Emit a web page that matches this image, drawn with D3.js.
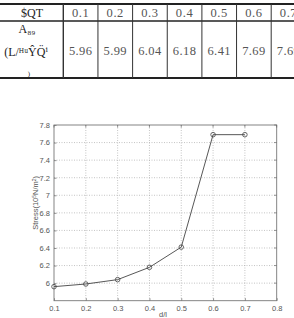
<!DOCTYPE html>
<html>
<head>
<meta charset="utf-8">
<script src="https://cdn.jsdelivr.net/npm/d3@7"></script>
<style>
  body { margin: 0; background: #fff; }
  svg { display: block; }
</style>
</head>
<body>
<div id="chart"></div>
<script>
// Values
const dl = [0.1, 0.2, 0.3, 0.4, 0.5, 0.6, 0.7];
const stress = [5.96, 5.99, 6.04, 6.18, 6.41, 7.69, 7.69];
const xTicks = [0.1, 0.2, 0.3, 0.4, 0.5, 0.6, 0.7, 0.8];
const yTicks = [6, 6.2, 6.4, 6.6, 6.8, 7, 7.2, 7.4, 7.6, 7.8];
const headLabel = "$QT";
const rowLabel = ["A\u2088\u2089", "(L/\u1d34\u1d58\u0176Q\u0308\u2071", ")"];

const W = 294, H = 318;
const svg = d3.select("#chart").append("svg")
  .attr("width", W).attr("height", H);

// ---- table at the top ----
const tbl = svg.append("g");
const colX = d3.scaleBand().domain(dl).range([63.3, 63.3 + 34.65 * dl.length]);
const serif = "'Liberation Serif', 'DejaVu Serif', serif";

tbl.append("line").attr("x1", 0).attr("x2", W).attr("y1", 4).attr("y2", 4)
  .attr("stroke", "#222").attr("stroke-width", 2);
tbl.append("line").attr("x1", 0).attr("x2", W).attr("y1", 21).attr("y2", 21)
  .attr("stroke", "#222").attr("stroke-width", 1.6);
tbl.append("line").attr("x1", 0).attr("x2", W).attr("y1", 78).attr("y2", 78)
  .attr("stroke", "#222").attr("stroke-width", 2);

tbl.selectAll(".vl").data(dl).enter().append("line")
  .attr("x1", d => colX(d)).attr("x2", d => colX(d))
  .attr("y1", 4).attr("y2", 78)
  .attr("stroke", "#333").attr("stroke-width", d => d === dl[0] ? 1.4 : 1);

// the last column runs past the right edge, as in the source page
tbl.selectAll(".hd").data(dl).enter().append("text")
  .attr("x", d => colX(d) + colX.bandwidth() / 2).attr("y", 17)
  .attr("text-anchor", "middle")
  .attr("font-family", serif).attr("font-size", 12.5).attr("fill", "#555")
  .attr("letter-spacing", 0.6)
  .text(d => d3.format(".1f")(d));

tbl.selectAll(".val").data(stress).enter().append("text")
  .attr("x", (d, i) => colX(dl[i]) + colX.bandwidth() / 2).attr("y", 54.5)
  .attr("text-anchor", "middle")
  .attr("font-family", serif).attr("font-size", 12.5).attr("fill", "#555")
  .attr("letter-spacing", 0.4)
  .text(d => d3.format(".2f")(d));

tbl.append("text").attr("x", 32).attr("y", 17).attr("text-anchor", "middle")
  .attr("font-family", serif).attr("font-size", 12).attr("fill", "#222")
  .text(headLabel);
tbl.append("text").attr("x", 27).attr("y", 33).attr("text-anchor", "middle")
  .attr("font-family", serif).attr("font-size", 12).attr("fill", "#222")
  .text(rowLabel[0]);
tbl.append("text").attr("x", 26).attr("y", 56).attr("text-anchor", "middle")
  .attr("font-family", serif).attr("font-size", 12).attr("fill", "#222")
  .text(rowLabel[1]);
tbl.append("text").attr("x", 29).attr("y", 76).attr("text-anchor", "middle")
  .attr("font-family", serif).attr("font-size", 7).attr("fill", "#222")
  .text(rowLabel[2]);

// ---- line chart ----
const m = { left: 54, right: 276.7, top: 125, bottom: 300.7 };
const x = d3.scaleLinear().domain([0.1, 0.8]).range([m.left, m.right]);
const y = d3.scaleLinear().domain([5.8, 7.8]).range([m.bottom, m.top]);
const plot = svg.append("g");
const sans = "Arial, 'Liberation Sans', sans-serif";

// grid
plot.selectAll(".gx").data(xTicks.slice(1, -1)).enter().append("line")
  .attr("x1", d => x(d)).attr("x2", d => x(d))
  .attr("y1", m.top).attr("y2", m.bottom)
  .attr("stroke", "#aaa").attr("stroke-width", 0.7).attr("stroke-dasharray", "1,1.5");
plot.selectAll(".gy").data(yTicks.slice(0, -1)).enter().append("line")
  .attr("x1", m.left).attr("x2", m.right)
  .attr("y1", d => y(d)).attr("y2", d => y(d))
  .attr("stroke", "#aaa").attr("stroke-width", 0.7).attr("stroke-dasharray", "1,1.5");

// axes (ticks pointing inward, box)
const xAxis = d3.axisBottom(x).tickValues(xTicks).tickSize(-2.5).tickPadding(5)
  .tickFormat(d3.format(".1f"));
const yAxis = d3.axisLeft(y).tickValues(yTicks).tickSize(-2.5).tickPadding(4)
  .tickFormat(d => d === 6 || d === 7 ? d3.format("d")(d) : d3.format(".1f")(d));

const gx = plot.append("g").attr("transform", `translate(0,${m.bottom})`).call(xAxis);
const gy = plot.append("g").attr("transform", `translate(${m.left},0)`).call(yAxis);
[gx, gy].forEach(g => {
  g.select(".domain").remove();
  g.selectAll("line").attr("stroke", "#666").attr("stroke-width", 0.7);
  g.selectAll("text").attr("font-family", sans).attr("font-size", 7.5).attr("fill", "#555");
});

plot.append("rect").attr("x", m.left).attr("y", m.top)
  .attr("width", m.right - m.left).attr("height", m.bottom - m.top)
  .attr("fill", "none").attr("stroke", "#777").attr("stroke-width", 0.9);

// top/right inward ticks
plot.selectAll(".tt").data(xTicks).enter().append("line")
  .attr("x1", d => x(d)).attr("x2", d => x(d))
  .attr("y1", m.top).attr("y2", m.top + 2.5).attr("stroke", "#666").attr("stroke-width", 0.7);
plot.selectAll(".rt").data(yTicks).enter().append("line")
  .attr("x1", m.right).attr("x2", m.right - 2.5)
  .attr("y1", d => y(d)).attr("y2", d => y(d)).attr("stroke", "#666").attr("stroke-width", 0.7);

// line + markers
const line = d3.line().x((d, i) => x(dl[i])).y(d => y(d));
plot.append("path").datum(stress).attr("d", line)
  .attr("fill", "none").attr("stroke", "#444").attr("stroke-width", 0.9);
plot.selectAll(".pt").data(stress).enter().append("circle")
  .attr("cx", (d, i) => x(dl[i])).attr("cy", d => y(d)).attr("r", 2.3)
  .attr("fill", "none").attr("stroke", "#444").attr("stroke-width", 0.8);

// labels
plot.append("text").attr("x", 163).attr("y", 317).attr("text-anchor", "middle")
  .attr("font-family", sans).attr("font-size", 7.5).attr("fill", "#555").text("d/l");
plot.append("text")
  .attr("transform", `translate(38,${(m.top + m.bottom) / 2 - 10}) rotate(-90)`)
  .attr("text-anchor", "middle")
  .attr("font-family", sans).attr("font-size", 7.5).attr("fill", "#555")
  .html('Stress(10<tspan dy="-2.5" font-size="5">5</tspan><tspan dy="2.5">N/m</tspan><tspan dy="-2.5" font-size="5">2</tspan><tspan dy="2.5">)</tspan>');
</script>
</body>
</html>
